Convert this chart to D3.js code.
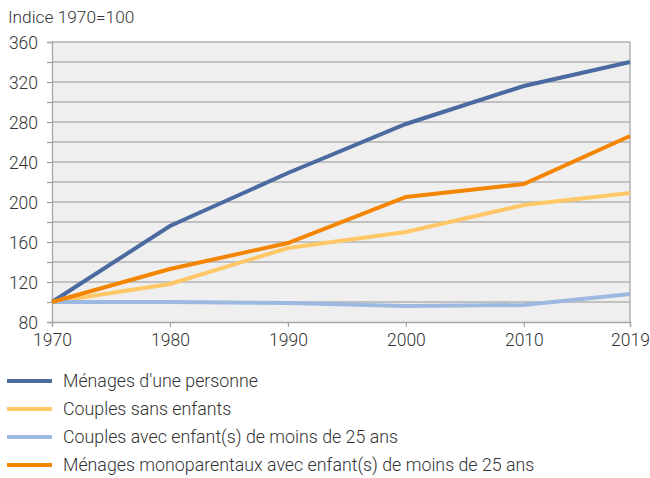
<!DOCTYPE html>
<html>
<head>
<meta charset="utf-8">
<script src="https://cdn.jsdelivr.net/npm/d3@7"></script>
<style>
  body { margin: 0; background: #fff; }
  text { font-family: Roboto, "Open Sans", sans-serif; font-weight: 300; fill: #333; }
</style>
</head>
<body>
<svg id="chart" width="650" height="478"></svg>
<script>
const years = [1970, 1980, 1990, 2000, 2010, 2019];
const yTicks = [80, 120, 160, 200, 240, 280, 320, 360];

const seriesNames = [
  "Ménages d'une personne",
  "Couples sans enfants",
  "Couples avec enfant(s) de moins de 25 ans",
  "Ménages monoparentaux avec enfant(s) de moins de 25 ans"
];
const seriesColors = ["#4a6aa0", "#ffc766", "#9db9e2", "#f48500"];

const onePerson = [100, 176, 229, 278, 316, 340];
const couplesNoKids = [100, 118, 154, 170, 197, 209];
const couplesKids = [100, 100, 99, 96, 97, 108];
const singleParent = [100, 133, 159, 205, 218, 266];

const seriesValues = [onePerson, couplesNoKids, couplesKids, singleParent];

const margin = { left: 52, right: 20, top: 42, bottom: 156 };
const width = 650, height = 478;

const chart = d3.select("#chart");

const xScale = d3.scaleLinear()
  .domain([1970, 2019])
  .range([margin.left, width - margin.right]);

const yScale = d3.scaleLinear()
  .domain([80, 360])
  .range([height - margin.bottom, margin.top]);

// plot background
chart.append("rect")
  .attr("x", xScale(1970))
  .attr("y", yScale(360))
  .attr("width", xScale(2019) - xScale(1970))
  .attr("height", yScale(80) - yScale(360))
  .attr("fill", "#efefef");

// gridlines every 20
chart.append("g")
  .selectAll("line")
  .data(d3.range(100, 361, 20))
  .join("line")
  .attr("x1", xScale(1970))
  .attr("x2", xScale(2019))
  .attr("y1", (d) => yScale(d))
  .attr("y2", (d) => yScale(d))
  .attr("stroke", "#b2b2b2")
  .attr("stroke-width", 1.3);

// right border
chart.append("line")
  .attr("x1", xScale(2019)).attr("x2", xScale(2019))
  .attr("y1", yScale(360)).attr("y2", yScale(80))
  .attr("stroke", "#a6a6a6").attr("stroke-width", 1.3);

// axes
const yAxis = chart.append("g")
  .attr("transform", `translate(${margin.left}, 0)`)
  .call(d3.axisLeft(yScale).tickValues(d3.range(80, 361, 20))
    .tickFormat((d) => yTicks.includes(d) ? d : "")
    .tickSize(5).tickPadding(9));

const xAxis = chart.append("g")
  .attr("transform", `translate(0, ${height - margin.bottom})`)
  .call(d3.axisBottom(xScale).tickValues(years).tickFormat(d3.format("d"))
    .tickSize(5).tickPadding(7));

[xAxis, yAxis].forEach((ax) => {
  ax.select(".domain").attr("stroke", "#a6a6a6").attr("stroke-width", 1.3);
  ax.selectAll(".tick line").attr("stroke", "#a6a6a6").attr("stroke-width", 1.3);
  ax.selectAll(".tick text")
    .style("font-family", "Roboto, sans-serif")
    .style("font-weight", 300)
    .style("font-size", "17.5px")
    .attr("fill", "#333");
});
yAxis.selectAll(".tick text").attr("dy", "0.35em");

// lines
const line = d3.line()
  .x((d, i) => xScale(years[i]))
  .y((d) => yScale(d));

chart.append("g")
  .selectAll("path")
  .data(seriesValues)
  .join("path")
  .attr("d", line)
  .attr("fill", "none")
  .attr("stroke", (d, i) => seriesColors[i])
  .attr("stroke-width", 4);

chart.append("text")
  .attr("x", 8)
  .attr("y", 23)
  .style("font-size", "17.3px")
  .text("Indice 1970=100");

// legend
const legendItems = chart.append("g")
  .selectAll("g")
  .data(seriesNames)
  .join("g")
  .attr("transform", (d, i) => `translate(0, ${381 + i * 28})`);

legendItems.append("line")
  .attr("x1", 7).attr("x2", 52)
  .attr("stroke", (d, i) => seriesColors[i])
  .attr("stroke-width", 4);

legendItems.append("text")
  .attr("x", 63)
  .attr("dy", "0.35em")
  .style("font-size", "17.8px")
  .text((d) => d);
</script>
</body>
</html>
